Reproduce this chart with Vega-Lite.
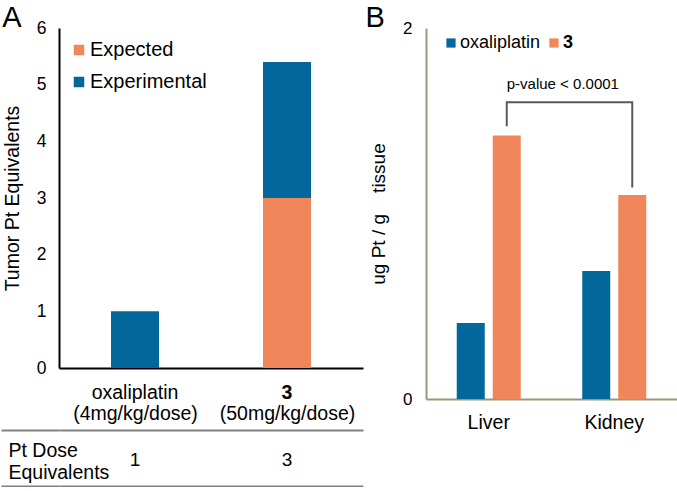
{
  "$schema": "https://vega.github.io/schema/vega-lite/v6.json",
  "padding": {"top": 4, "left": 0, "right": 0, "bottom": 0},
  "config": {
    "view": {"stroke": null},
    "font": "Liberation Sans",
    "axis": {"labelColor": "#000000", "titleColor": "#000000", "titleFontWeight": "normal"},
    "legend": {"labelColor": "#000000"}
  },
  "datasets": {
    "tumor": [
      {"drug": "oxaliplatin", "type": "Experimental", "value": 1},
      {"drug": "3", "type": "Expected", "value": 3},
      {"drug": "3", "type": "Experimental", "value": 2.4}
    ],
    "dose": [
      {"drug": "oxaliplatin", "row": "Pt Dose Equivalents", "eq": "1"},
      {"drug": "3", "row": "Pt Dose Equivalents", "eq": "3"}
    ],
    "tissue": [
      {"organ": "Liver", "drug": "oxaliplatin", "value": 0.41},
      {"organ": "Liver", "drug": "3", "value": 1.42},
      {"organ": "Kidney", "drug": "oxaliplatin", "value": 0.69},
      {"organ": "Kidney", "drug": "3", "value": 1.1}
    ],
    "bracket": [
      {"organ": "Liver", "drug": "3", "y": 1.47, "i": 1},
      {"organ": "Liver", "drug": "3", "y": 1.6, "i": 2},
      {"organ": "Kidney", "drug": "3", "y": 1.6, "i": 3},
      {"organ": "Kidney", "drug": "3", "y": 1.14, "i": 4}
    ],
    "pvalue": [
      {"organ": "Liver", "drug": "3", "y": 1.7, "label": "p-value < 0.0001"}
    ]
  },
  "resolve": {"scale": {"color": "independent"}},
  "spacing": 2,
  "hconcat": [
    {
      "spacing": 1,
      "vconcat": [
        {
          "title": {"text": "A", "anchor": "start", "frame": "bounds", "fontSize": 29, "fontWeight": "normal", "color": "#000000", "baseline": "alphabetic", "offset": -37},
          "width": 304,
          "height": 340,
          "data": {"name": "tumor"},
          "mark": {"type": "bar", "width": 48},
          "encoding": {
            "x": {
              "field": "drug", "type": "nominal", "sort": ["oxaliplatin", "3"],
              "scale": {"paddingInner": 0, "paddingOuter": 0},
              "axis": {
                "title": null, "labelAngle": 0, "ticks": false,
                "domainColor": "#000000", "domainWidth": 2,
                "labelFontSize": 19.5, "labelPadding": 15,
                "labelFontWeight": {"condition": {"test": "datum.value === '3'", "value": "bold"}, "value": "normal"}
              }
            },
            "y": {
              "field": "value", "type": "quantitative", "stack": "zero",
              "scale": {"domain": [0, 6]},
              "axis": {
                "title": "Tumor Pt Equivalents", "titleFontSize": 19.5, "titlePadding": 14,
                "values": [0, 1, 2, 3, 4, 5, 6], "grid": false, "ticks": false,
                "domainColor": "#000000", "domainWidth": 2,
                "labelFontSize": 17.5, "labelPadding": 13
              }
            },
            "order": {"field": "type", "type": "nominal", "sort": "ascending"},
            "color": {
              "field": "type", "type": "nominal",
              "scale": {"domain": ["Expected", "Experimental"], "range": ["#F0875A", "#02689B"]},
              "legend": {
                "title": null, "orient": "none", "legendX": 10, "legendY": 12,
                "labelFontSize": 20, "symbolType": "square", "symbolSize": 110,
                "symbolStrokeWidth": 0, "rowPadding": 12, "labelOffset": 1
              }
            }
          }
        },
        {
          "width": 304,
          "height": 56,
          "data": {"name": "dose"},
          "mark": {"type": "text", "fontSize": 19, "color": "#000000", "dy": 2},
          "encoding": {
            "x": {
              "field": "drug", "type": "nominal", "sort": ["oxaliplatin", "3"],
              "scale": {"paddingInner": 0, "paddingOuter": 0},
              "axis": {
                "orient": "top", "title": null, "labelAngle": 0, "domain": false, "ticks": false,
                "labelFontSize": 19.5, "labelPadding": 7,
                "labelExpr": "datum.value === '3' ? '(50mg/kg/dose)' : '(4mg/kg/dose)'"
              }
            },
            "y": {
              "field": "row", "type": "nominal",
              "scale": {"type": "band", "paddingInner": 0, "paddingOuter": 0},
              "axis": {
                "title": null, "domain": false,
                "ticks": true, "tickBand": "extent", "tickSize": 58, "tickColor": "#808080", "tickWidth": 2,
                "grid": true, "gridColor": "#808080", "gridWidth": 2,
                "labelExpr": "datum.label ? ['Pt Dose', 'Equivalents'] : ''", "labelAlign": "left", "labelBaseline": "middle",
                "labelPadding": -7, "labelOffset": -8, "labelFontSize": 19.5, "labelLineHeight": 22
              }
            },
            "text": {"field": "eq"}
          }
        }
      ]
    },
    {
      "title": {"text": "B", "anchor": "start", "frame": "bounds", "fontSize": 29, "fontWeight": "normal", "color": "#000000", "baseline": "alphabetic", "offset": -37, "dx": -4},
      "width": 251,
      "height": 371,
      "layer": [
        {
          "data": {"name": "tissue"},
          "mark": {"type": "bar"},
          "encoding": {
            "x": {
              "field": "organ", "type": "nominal", "sort": ["Liver", "Kidney"],
              "scale": {"paddingInner": 0, "paddingOuter": 0},
              "axis": {
                "title": null, "labelAngle": 0, "ticks": false,
                "domainColor": "#9E9775", "domainWidth": 2,
                "labelFontSize": 19.5, "labelPadding": 14
              }
            },
            "xOffset": {
              "field": "drug", "type": "nominal", "sort": ["oxaliplatin", "3"],
              "scale": {"paddingInner": 0.222, "paddingOuter": 0.854}
            },
            "y": {
              "field": "value", "type": "quantitative",
              "scale": {"domain": [0, 2]},
              "axis": {
                "title": "ug Pt / g\u00a0\u00a0\u00a0\u00a0tissue", "titleFontSize": 19, "titlePadding": 14,
                "values": [0, 1, 2], "format": "d", "grid": false, "ticks": false,
                "domainColor": "#9E9775", "domainWidth": 2,
                "labelFontSize": 17, "labelPadding": 14
              }
            },
            "color": {
              "field": "drug", "type": "nominal",
              "scale": {"domain": ["oxaliplatin", "3"], "range": ["#02689B", "#F0875A"]},
              "legend": {
                "title": null, "orient": "none", "direction": "horizontal",
                "legendX": 16, "legendY": 6,
                "labelFontSize": 18, "symbolType": "square", "symbolSize": 85,
                "symbolStrokeWidth": 0, "columnPadding": 4, "labelOffset": 0,
                "encode": {"labels": {"update": {"fontWeight": {"signal": "datum.value === '3' ? 'bold' : 'normal'"}}}}
              }
            }
          }
        },
        {
          "data": {"name": "bracket"},
          "mark": {"type": "line", "color": "#595959", "strokeWidth": 2},
          "encoding": {
            "x": {"field": "organ", "type": "nominal", "sort": ["Liver", "Kidney"]},
            "xOffset": {"field": "drug", "type": "nominal", "sort": ["oxaliplatin", "3"]},
            "y": {"field": "y", "type": "quantitative"},
            "order": {"field": "i", "type": "quantitative"}
          }
        },
        {
          "data": {"name": "pvalue"},
          "mark": {"type": "text", "align": "left", "baseline": "middle", "fontSize": 15, "color": "#000000"},
          "encoding": {
            "x": {"field": "organ", "type": "nominal", "sort": ["Liver", "Kidney"]},
            "xOffset": {"field": "drug", "type": "nominal", "sort": ["oxaliplatin", "3"]},
            "y": {"field": "y", "type": "quantitative"},
            "text": {"field": "label"}
          }
        }
      ]
    }
  ]
}
